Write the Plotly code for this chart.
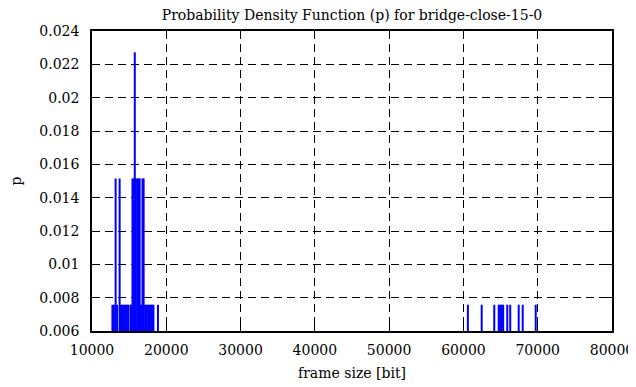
import plotly.graph_objects as go

# frame sizes [bit] and probabilities (1/132 per occurrence)
frame_sizes = [
    12750, 12950, 13180, 13380,
    13720, 13900, 14100, 14300, 14500, 14700, 14880,
    15180, 15300, 15450, 15650, 15760, 15900, 16100, 16300, 16420,
    16600, 16800, 16950, 17150, 17350, 17550, 17750, 17950, 18150, 18270,
    18880,
    60600, 62460, 64150, 64750, 64950, 65150, 65350, 65900, 66300,
    67440, 67980, 69730,
]
probs = [
    0.007576, 0.007576, 0.015152, 0.007576,
    0.015152, 0.007576, 0.007576, 0.007576, 0.007576, 0.007576, 0.007576,
    0.007576, 0.007576, 0.015152, 0.015152, 0.022727, 0.015152, 0.015152, 0.015152, 0.015152,
    0.007576, 0.015152, 0.015152, 0.007576, 0.007576, 0.007576, 0.007576, 0.007576, 0.007576, 0.007576,
    0.007576,
    0.007576, 0.007576, 0.007576, 0.007576, 0.007576, 0.007576, 0.007576, 0.007576, 0.007576,
    0.007576, 0.007576, 0.007576,
]
x_ticks = [10000, 20000, 30000, 40000, 50000, 60000, 70000, 80000]
y_ticks = [0.006, 0.008, 0.01, 0.012, 0.014, 0.016, 0.018, 0.02, 0.022, 0.024]
y_tick_labels = ["0.006", "0.008", "0.01", "0.012", "0.014", "0.016", "0.018", "0.02", "0.022", "0.024"]

xs, ys = [], []
for f, p in zip(frame_sizes, probs):
    xs += [f, f, None]
    ys += [0, p, None]

fig = go.Figure()
fig.add_trace(go.Scatter(x=xs, y=ys, mode="lines",
                         line=dict(color="#0000ff", width=2),
                         showlegend=False, hoverinfo="skip"))

# the page body adds an 8px offset; figure is sized/margined to compensate
W, H = 628, 379
font = dict(family="DejaVu Serif", size=14, color="black")
axis_common = dict(showline=True, linecolor="black", linewidth=1.5, mirror="ticks",
                   ticks="inside", ticklen=6, tickcolor="black", tickwidth=1,
                   showgrid=True, gridcolor="black", gridwidth=1, griddash="8px,5px",
                   zeroline=False, tickfont=font, automargin=False)
fig.update_xaxes(range=[10000, 80000], tickvals=x_ticks, ticktext=[str(t) for t in x_ticks],
                 ticklabelstandoff=5,
                 title=dict(text="frame size [bit]", font=font, standoff=12), **axis_common)
fig.update_yaxes(range=[0.006, 0.024], tickvals=y_ticks, ticktext=y_tick_labels,
                 ticklabelstandoff=8,
                 title=dict(text="p", font=font, standoff=22), **axis_common)
fig.update_layout(
    width=W, height=H,
    margin=dict(l=84, r=24, t=23, b=56, autoexpand=False),
    paper_bgcolor="white", plot_bgcolor="white",
    title=dict(text="Probability Density Function (p) for bridge-close-15-0",
               font=font, x=344 / W, xanchor="center", y=0.995, yanchor="top",
               pad=dict(t=0)),
    font=font,
)
fig.write_html("out.html")
